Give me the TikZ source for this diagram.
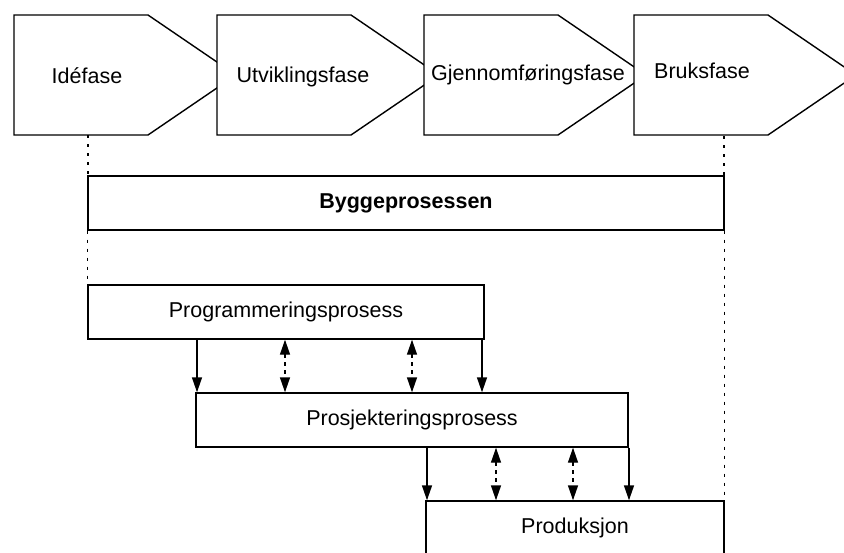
\documentclass[tikz,border=0pt]{standalone}
\usepackage{fontspec}
\setmainfont{Liberation Sans}
\usetikzlibrary{arrows.meta}
\begin{document}
\begin{tikzpicture}[x=1pt,y=-1pt,
  every node/.style={font=\fontsize{21.5}{24}\selectfont, inner sep=0pt},
  pent/.style={draw=black, fill=white, line width=1.4pt, line join=miter},
  box/.style={draw=black, fill=white, line width=1.4pt, minimum height=54pt},
  dotline/.style={line width=1.4pt, dash pattern=on 3pt off 6pt},
  sarr/.style={line width=1.4pt, -{Triangle[length=15pt,width=10pt]}},
  darr/.style={line width=1.4pt, dash pattern=on 4pt off 4pt, {Triangle[length=15pt,width=10pt]}-{Triangle[length=15pt,width=10pt]}},
]
\path[use as bounding box] (0,0) rectangle (844,552);
\clip (0,0) rectangle (844,552);

% dotted guide lines
\coordinate (dl) at (88,135);
\coordinate (dr) at (724,136);

% phase pentagons
\foreach \L in {14,217,424,634}
  \filldraw[pent] (\L,15) -- (\L+134,15) -- (\L+222,75) -- (\L+134,135) -- (\L,135) -- cycle;

\node (ide)  at (87,76)  {Idéfase};
\node (utv)  at (303,77) {Utviklingsfase};
\node (gjen) at (528,75) {Gjennomføringsfase};
\node (bruk) at (702,71) {Bruksfase};

% boxes
\node[box, minimum width=636pt] (bygg) at (406,203) {\bfseries Byggeprosessen};
\node[box, minimum width=396pt] (prog) at (286,312) {Programmeringsprosess};
\node[box, minimum width=432pt] (proj) at (412,420) {Prosjekteringsprosess};
\node[box, minimum width=298pt] (prod) at (575,528) {Produksjon};

\draw[dotline] (dl) -- (dl |- bygg.north);
\draw[dotline] (bygg.south west) -- (prog.north west);
\draw[dotline] (dr) -- (dr |- bygg.north);
\draw[dotline] (bygg.south east) -- (prod.north east);

% arrows programmering -> prosjektering
\draw[sarr] (197,0 |- prog.south) -- (197,0 |- proj.north);
\draw[darr] (285,0 |- prog.south) -- (285,0 |- proj.north);
\draw[darr] (412,0 |- prog.south) -- (412,0 |- proj.north);
\draw[sarr] (482,0 |- prog.south) -- (482,0 |- proj.north);

% arrows prosjektering -> produksjon
\draw[sarr] (427,0 |- proj.south) -- (427,0 |- prod.north);
\draw[darr] (496,0 |- proj.south) -- (496,0 |- prod.north);
\draw[darr] (573,0 |- proj.south) -- (573,0 |- prod.north);
\draw[sarr] (629,0 |- proj.south) -- (629,0 |- prod.north);
\end{tikzpicture}
\end{document}
